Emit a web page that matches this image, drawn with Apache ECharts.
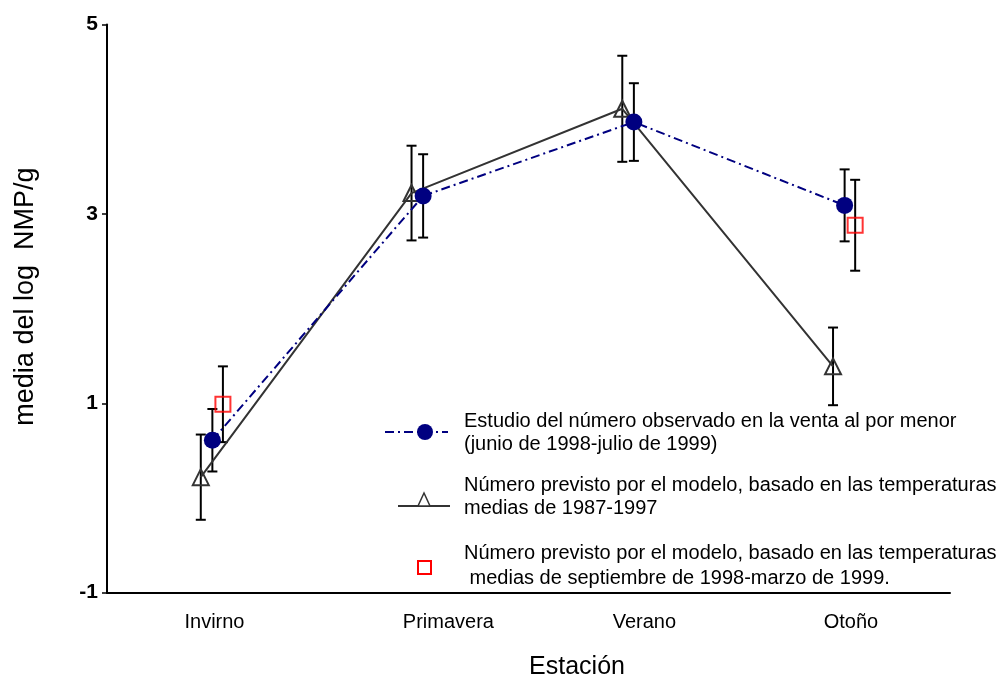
<!DOCTYPE html>
<html>
<head>
<meta charset="utf-8">
<script src="https://cdn.jsdelivr.net/npm/echarts@6/dist/echarts.min.js"></script>
<style>
  html, body { margin: 0; padding: 0; background: #fff; }
  #chart { width: 1005px; height: 679px; }
</style>
</head>
<body>
<div id="chart"></div>
<script>
// Seasons along the x axis
const seasons = ['Invirno', 'Primavera', 'Verano', 'Otoño'];
// Where each season name sits along the x axis (in season units)
const seasonLabelAt = [0.01, 1.12, 2.05, 3.03];

// Observed retail survey (June 1998 - July 1999): mean log MPN/g and error
const observedMean = [0.61, 3.19, 3.97, 3.09];
const observedErr  = [0.33, 0.44, 0.41, 0.38];

// Model prediction, mean temperatures 1987-1997
const model8797Mean = [0.22, 3.22, 4.11, 1.39];
const model8797Err  = [0.45, 0.50, 0.56, 0.41];

// Model prediction, mean temperatures Sep 1998 - Mar 1999 (winter and autumn only)
const model9899Season = [0, 3];
const model9899Mean = [0.99, 2.88];
const model9899Err  = [0.40, 0.48];

// Y axis ticks
const yTicks = [-1, 1, 3, 5];

const legendText = [
  ['Estudio del número observado en la venta al por menor', '(junio de 1998-julio de 1999)'],
  ['Número previsto por el modelo, basado en las temperaturas', 'medias de 1987-1997'],
  ['Número previsto por el modelo, basado en las temperaturas', ' medias de septiembre de 1998-marzo de 1999.']
];

const FONT = '"Liberation Sans", Arial, sans-serif';
const NAVY = '#000080';
const GREY = '#333333';
const RED = '#ff0000';
const DASHDOT = [9, 4, 2, 4];

// small horizontal shift so the three groups do not overlap at a season
const shift = { observed: 0, m8797: -0.055, m9899: 0.05 };

const observedPts = observedMean.map((v, i) => [i + shift.observed, v]);
const m8797Pts = model8797Mean.map((v, i) => [i + shift.m8797, v]);
const m9899Pts = model9899Mean.map((v, i) => [model9899Season[i] + shift.m9899, v]);

function errRows(pts, errs) {
  return pts.map((p, i) => [p[0], p[1] - errs[i], p[1] + errs[i]]);
}
const errData = []
  .concat(errRows(m8797Pts, model8797Err))
  .concat(errRows(observedPts, observedErr))
  .concat(errRows(m9899Pts, model9899Err));

function renderErr(params, api) {
  const x = api.value(0);
  const lo = api.coord([x, api.value(1)]);
  const hi = api.coord([x, api.value(2)]);
  const half = 5;
  const style = { stroke: '#000', lineWidth: 2 };
  return {
    type: 'group',
    children: [
      { type: 'line', shape: { x1: lo[0], y1: lo[1], x2: hi[0], y2: hi[1] }, style },
      { type: 'line', shape: { x1: hi[0] - half, y1: hi[1], x2: hi[0] + half, y2: hi[1] }, style },
      { type: 'line', shape: { x1: lo[0] - half, y1: lo[1], x2: lo[0] + half, y2: lo[1] }, style }
    ]
  };
}

// Legend drawn as graphics
const LX = 464;
const legendGraphics = [
  { type: 'line', shape: { x1: 385, y1: 432, x2: 448, y2: 432 },
    style: { stroke: NAVY, lineWidth: 2, lineDash: DASHDOT } },
  { type: 'circle', shape: { cx: 425, cy: 432, r: 8 }, style: { fill: NAVY } },
  { type: 'line', shape: { x1: 398, y1: 506, x2: 450, y2: 506 },
    style: { stroke: GREY, lineWidth: 2 } },
  { type: 'polygon', shape: { points: [[424, 493], [418, 506], [430, 506]] },
    style: { fill: '#fff', stroke: GREY, lineWidth: 1.5 } },
  { type: 'rect', shape: { x: 418, y: 561, width: 13, height: 13 },
    style: { fill: 'none', stroke: RED, lineWidth: 2 } }
];
const legendY = [[421, 444], [485, 508], [553, 578]];
legendText.forEach((lines, i) => {
  lines.forEach((t, j) => {
    legendGraphics.push({
      type: 'text', x: LX, y: legendY[i][j],
      style: { text: t, font: '20px ' + FONT, fill: '#000', verticalAlign: 'middle', align: 'left' }
    });
  });
});

const chart = echarts.init(document.getElementById('chart'));
chart.setOption({
  backgroundColor: '#fff',
  animation: false,
  grid: { left: 107, right: 55, top: 24.5, bottom: 86.3, containLabel: false, outerBoundsMode: 'none' },
  xAxis: {
    type: 'value', min: -0.5, max: 3.5,
    name: 'Estación', nameLocation: 'middle', nameGap: 62,
    nameTextStyle: { fontFamily: FONT, fontSize: 25, color: '#000', padding: [0, 0, 0, 97] },
    axisLine: { onZero: false, lineStyle: { color: '#000', width: 2 } },
    axisTick: { show: false },
    splitLine: { show: false },
    axisLabel: {
      customValues: seasonLabelAt,
      formatter: (v) => {
        const i = seasonLabelAt.findIndex(p => Math.abs(p - v) < 1e-6);
        return i >= 0 ? seasons[i] : '';
      },
      fontFamily: FONT, fontSize: 20, color: '#000', margin: 20
    }
  },
  yAxis: {
    type: 'value', min: -1, max: 5, interval: 2,
    name: 'media del log  NMP/g', nameLocation: 'middle', nameGap: 68, nameRotate: 90,
    nameTextStyle: { fontFamily: FONT, fontSize: 27, color: '#000', padding: [0, 0, 0, 24] },
    axisLine: { show: true, onZero: false, lineStyle: { color: '#000', width: 2 } },
    axisTick: { show: true, length: 5, lineStyle: { color: '#000', width: 1.5 }, customValues: yTicks },
    splitLine: { show: false },
    axisLabel: {
      customValues: yTicks,
      fontFamily: FONT, fontSize: 21, fontWeight: 'bold', color: '#000', margin: 9
    }
  },
  series: [
    {
      type: 'custom', name: 'err', renderItem: renderErr, data: errData,
      z: 2, silent: true
    },
    {
      type: 'line', name: legendText[1].join(' '), data: m8797Pts,
      symbol: 'triangle', symbolSize: [16, 16],
      itemStyle: { color: 'rgba(0,0,0,0)', borderColor: GREY, borderWidth: 2 },
      lineStyle: { color: GREY, width: 2 },
      z: 3
    },
    {
      type: 'line', name: legendText[0].join(' '), data: observedPts,
      symbol: 'circle', symbolSize: 17,
      itemStyle: { color: NAVY },
      lineStyle: { color: NAVY, width: 2, type: DASHDOT },
      z: 4
    },
    {
      type: 'scatter', name: legendText[2].join(' '), data: m9899Pts,
      symbol: 'rect', symbolSize: 15,
      itemStyle: { color: 'rgba(0,0,0,0)', borderColor: RED, borderWidth: 2 },
      z: 5
    }
  ],
  graphic: legendGraphics
});
</script>
</body>
</html>
